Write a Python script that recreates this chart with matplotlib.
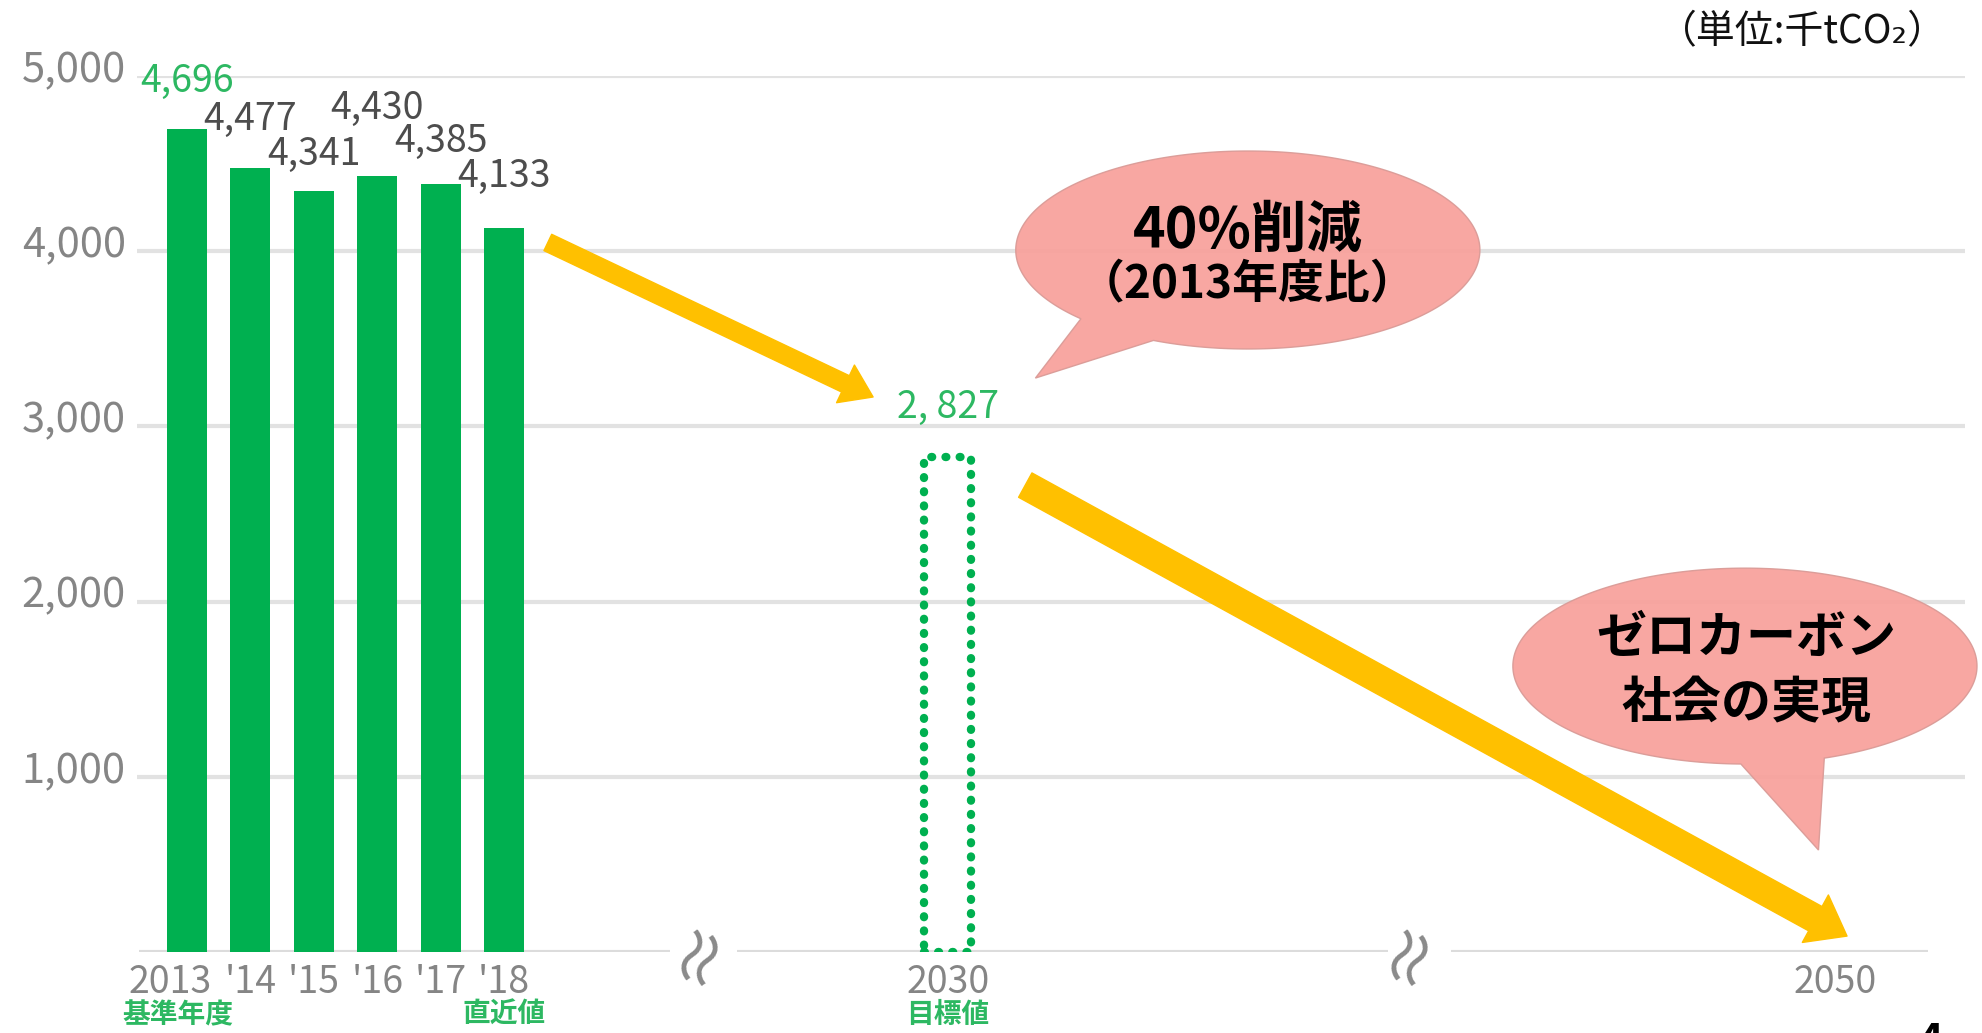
import matplotlib
matplotlib.use('Agg')
import matplotlib.pyplot as plt
import numpy as np
from matplotlib.patches import Polygon, FancyArrowPatch
from matplotlib.transforms import ScaledTranslation

plt.rcParams['font.family'] = ['Noto Sans CJK JP', 'DejaVu Sans']

# data
years = ['2013', "'14", "'15", "'16", "'17", "'18"]
emissions = [4696, 4477, 4341, 4430, 4385, 4133]
target_year = '2030'
target = 2827
goal_year = '2050'
yticks = [1000, 2000, 3000, 4000, 5000]
ytick_labels = ['1,000', '2,000', '3,000', '4,000', '5,000']
value_labels = ['4,696', '4,477', '4,341', '4,430', '4,385', '4,133']
target_label = '2, 827'
sub_labels = ['基準年度', '直近値', '目標値']

# layout
x_bars = np.arange(len(years))
x_target = 12
x_goal = 26
label_y = [4970, 4755, 4555, 4815, 4625, 4425]

GREEN = '#00B050'
LGREEN = '#2DB862'
GRAY = '#858585'
YELLOW = '#FFC000'
PINK = '#F8A19B'

fig = plt.figure(figsize=(19.82, 10.33), dpi=100)
ax = fig.add_axes([0.0691, 0.0784, 0.9223, 0.848])
ax.set_xlim(-0.79, 28.04)
ax.set_ylim(0, 5000)
for s in ax.spines.values():
    s.set_visible(False)

ax.set_yticks(yticks)
ax.set_yticklabels(ytick_labels, fontsize=30, color=GRAY)
ax.tick_params(axis='y', length=0, pad=8)
for lab in ax.get_yticklabels():
    lab.set_transform(lab.get_transform() + ScaledTranslation(0, 0.10, fig.dpi_scale_trans))
ax.grid(axis='y', color='#e2e2e2', lw=3)
ax.set_axisbelow(True)

ax.set_xticks(list(x_bars) + [x_target, x_goal])
ax.set_xticklabels(years + [target_year, goal_year], fontsize=27, color=GRAY)
ax.tick_params(axis='x', length=0, pad=8)
first = ax.get_xticklabels()[0]
first.set_transform(first.get_transform() + ScaledTranslation(-0.17, 0, fig.dpi_scale_trans))

# segmented baseline with break marks
for x0, x1 in [(-0.76, 7.62), (8.67, 18.94), (19.94, 27.46)]:
    ax.hlines(0, x0, x1, color='#dcdcdc', lw=3, zorder=1)
for xb in [8.1, 19.3]:
    ax.text(xb, 0, '≈', rotation=70, fontsize=50, color='#8a8a8a',
            ha='center', va='center', clip_on=False)

ax.bar(x_bars, emissions, width=0.63, color=GREEN, zorder=3)
ax.bar([x_target], [target], width=0.74, fill=False, edgecolor=GREEN,
       linewidth=6, linestyle=(0, (0.1, 1.6)), capstyle='round', zorder=3)

for i, (x, lab) in enumerate(zip(x_bars, value_labels)):
    ax.text(x, label_y[i], lab, ha='center', va='center', fontsize=27,
            color=LGREEN if i == 0 else '#4d4d4d', clip_on=False)
ax.text(x_target, target + 280, target_label, ha='center', va='center',
        fontsize=27, color=LGREEN)

for x, lab in zip([-0.15, 5.0, x_target], sub_labels):
    ax.text(x, -360, lab, ha='center', va='center', fontsize=20,
            fontweight='bold', color=LGREEN, clip_on=False)

# arrows
ax.add_patch(FancyArrowPatch((5.69, 4050), (10.82, 3168),
             arrowstyle='simple,head_length=2.2,head_width=3.0,tail_width=1.3',
             mutation_scale=10, color=YELLOW, shrinkA=0, shrinkB=0, zorder=4))
ax.add_patch(FancyArrowPatch((13.22, 2665), (26.18, 91),
             arrowstyle='simple,head_length=2.6,head_width=3.9,tail_width=2.0',
             mutation_scale=10, color=YELLOW, shrinkA=0, shrinkB=0, zorder=4))


def bubble(cx, cy, a, b, t1, t2, tip):
    t = np.radians(np.linspace(t2, t1 + 360, 300))
    pts = np.column_stack([cx + a * np.cos(t), cy + b * np.sin(t)])
    pts = np.vstack([pts, tip])
    ax.add_patch(Polygon(pts, closed=True, fc=PINK, ec='#d99a96', lw=1,
                         alpha=0.93, zorder=5, clip_on=False))


bubble(16.73, 4007, 3.66, 565, 224, 246, (13.38, 3276))
ax.text(16.73, 4115, '40%削減', ha='center', va='center', fontsize=40,
        fontweight='bold', zorder=6)
ax.text(16.73, 3813, '（2013年度比）', ha='center', va='center', fontsize=33,
        fontweight='bold', zorder=6)

bubble(24.57, 1632, 3.66, 559, 269, 290, (25.73, 582))
ax.text(24.59, 1792, 'ゼロカーボン', ha='center', va='center', fontsize=36,
        fontweight='bold', zorder=6)
ax.text(24.59, 1416, '社会の実現', ha='center', va='center', fontsize=36,
        fontweight='bold', zorder=6)

fig.text(1947 / 1982, 1 - 32 / 1033, '（単位:千tCO₂）', ha='right', va='center',
         fontsize=28, color='#111111')
fig.text(1930 / 1982, 1 - 1021 / 1033, '4', ha='center', va='top',
         fontsize=30, fontweight='bold')

fig.savefig('out.png', dpi=100)
